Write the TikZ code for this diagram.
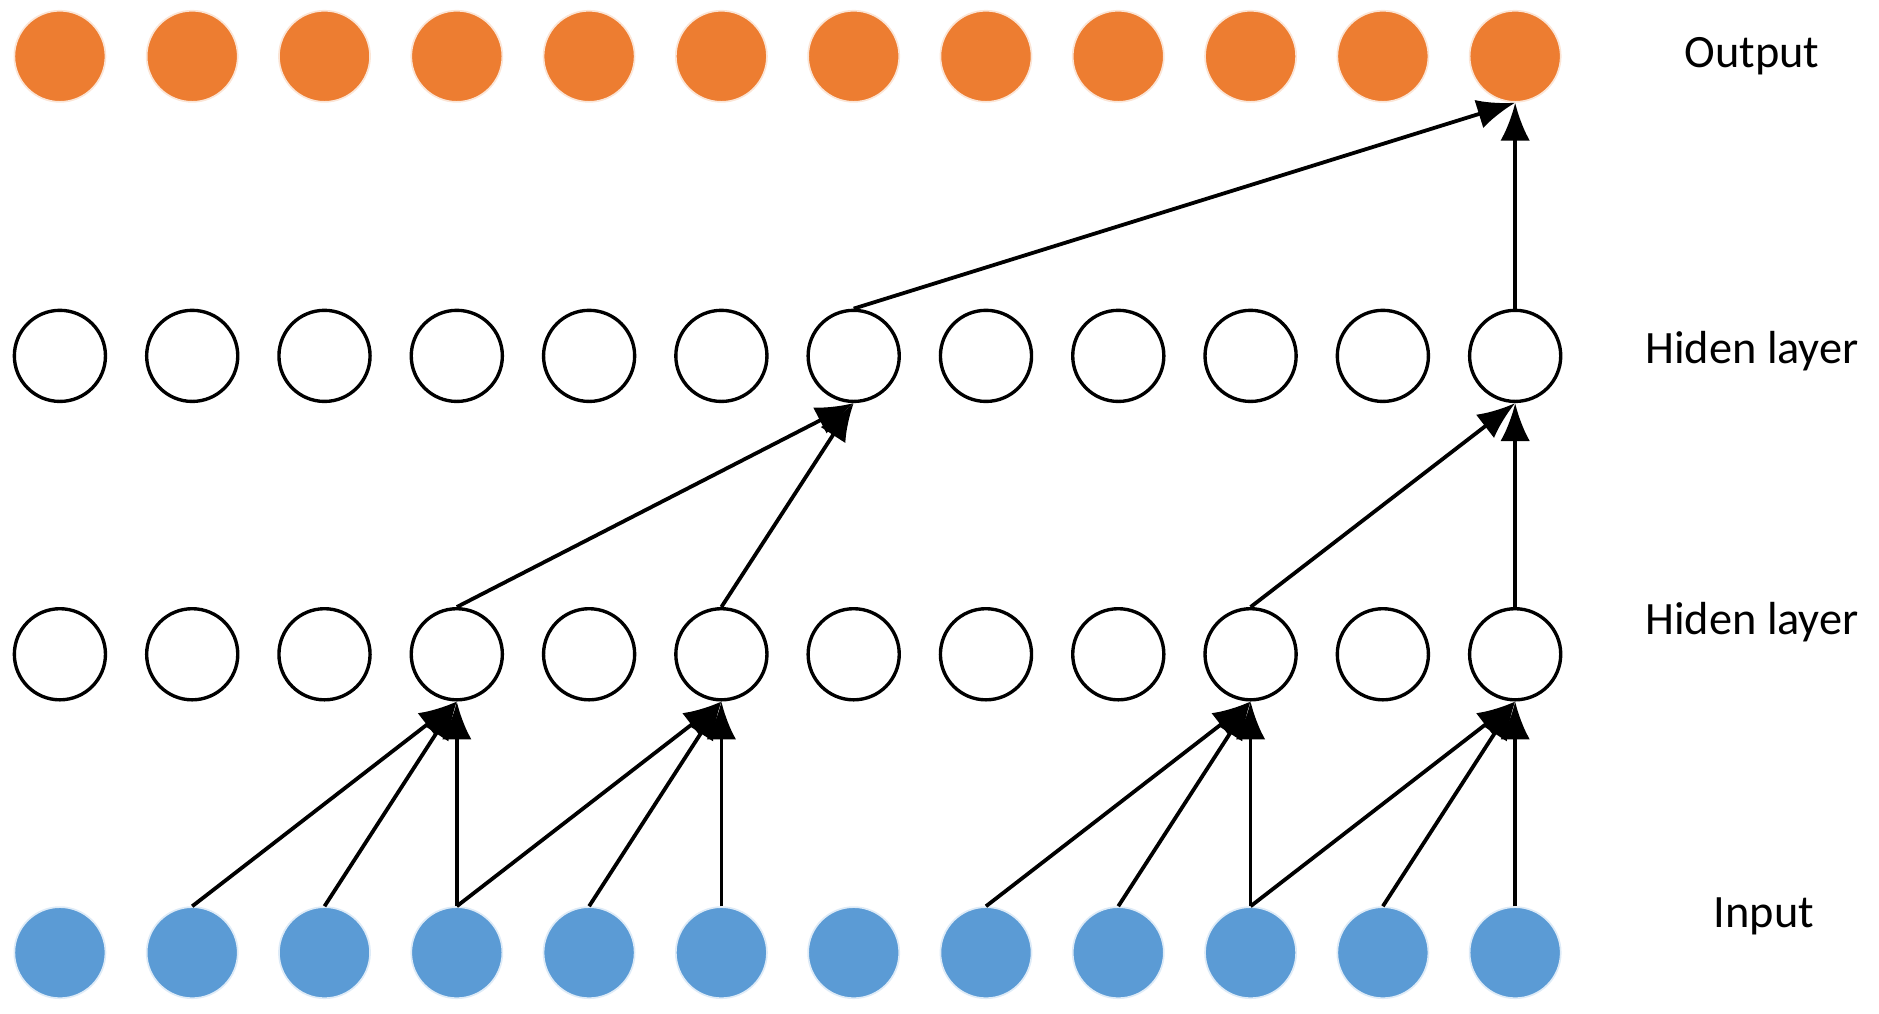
\documentclass[tikz,border=0pt]{standalone}
\usepackage{fontspec}
\setmainfont{Carlito}
\usetikzlibrary{arrows.meta}
\definecolor{orng}{RGB}{237,125,49}
\definecolor{blu}{RGB}{91,155,213}
\begin{document}
\begin{tikzpicture}[x=0.01cm,y=0.01cm,
  neuron/.style={circle,minimum size=0.76cm,inner sep=0pt,draw=#1},
  outn/.style={neuron=white!80!orng,fill=orng},
  inn/.style={neuron=white!80!blu,fill=blu},
  hidn/.style={neuron=black,fill=white,line width=0.8pt},
  conn/.style={-{Latex[length=9pt,width=7pt]},line width=0.9pt},
  lab/.style={font=\fontsize{11}{13}\selectfont}]
\useasboundingbox (0,0) rectangle (1568,846);
\foreach \i in {0,...,11}{
  \pgfmathsetmacro\xx{50+110.4*\i}
  \node[outn] (o\i) at (\xx,799) {};
  \node[hidn] (b\i) at (\xx,549) {};
  \node[hidn] (a\i) at (\xx,300) {};
  \node[inn] (i\i) at (\xx,51) {};
}
\node[lab] (lo) at (1462,799) {Output};
\node[lab] (lb) at (1462,553) {Hiden layer};
\node[lab] (la) at (1462,327) {Hiden layer};
\node[lab] (li) at (1472,81) {Input};
\foreach \s/\t in {1/3,2/3,3/3,3/5,4/5,5/5,7/9,8/9,9/9,9/11,10/11,11/11}
  \draw[conn] (i\s.north) -- (a\t.south);
\foreach \s/\t in {3/6,5/6,9/11,11/11}
  \draw[conn] (a\s.north) -- (b\t.south);
\foreach \s in {6,11}
  \draw[conn] (b\s.north) -- (o11.south);
\end{tikzpicture}
\end{document}
